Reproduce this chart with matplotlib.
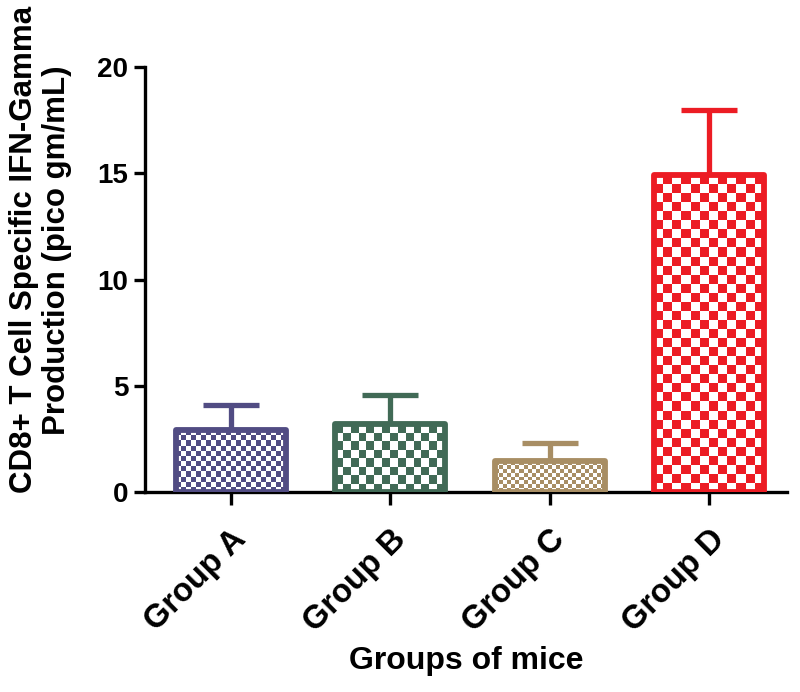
import numpy as np
import matplotlib
matplotlib.use('Agg')
import matplotlib.pyplot as plt
from matplotlib.colors import ListedColormap

plt.rcParams['font.family'] = 'Liberation Sans'
plt.rcParams['font.weight'] = 'bold'

groups = ['Group A', 'Group B', 'Group C', 'Group D']
means = [2.9, 3.2, 1.45, 14.9]
sem = [1.2, 1.35, 0.85, 3.1]
colors = ['#514C83', '#416A56', '#A88E64', '#EC1C24']
cell_px = [5, 8, 4, 9]   # checker square size in pixels

fig = plt.figure(figsize=(8, 6.92), dpi=100)
ax = fig.add_axes([0.181, 0.289, 0.803, 0.614])

x = np.arange(len(groups))
ax.set_xlim(-0.54, 3.49)
ax.set_ylim(0, 20)

bars = ax.bar(x, means, width=0.69, facecolor='none', edgecolor=colors,
              linewidth=4.2, joinstyle='round', zorder=3)
for i in range(len(groups)):
    ax.errorbar(x[i], means[i], yerr=[[0], [sem[i]]], fmt='none', ecolor=colors[i],
                elinewidth=3.8, capsize=20, capthick=3.8, zorder=2)

# checkerboard fill, clipped to each bar
for bar, c, cp in zip(bars, colors, cell_px):
    bx, by = bar.get_x(), bar.get_y()
    bw, bh = bar.get_width(), bar.get_height()
    p0 = ax.transData.transform((bx, by))
    p1 = ax.transData.transform((bx + bw, by + bh))
    nx = max(2, int(round((p1[0] - p0[0]) / cp)))
    ny = max(2, int(round((p1[1] - p0[1]) / cp)))
    board = (np.add.outer(np.arange(ny), np.arange(nx)) % 2).astype(float)
    im = ax.imshow(board, extent=(bx, bx + bw, by, by + bh), origin='lower',
                   cmap=ListedColormap(['white', c]), interpolation='nearest',
                   aspect='auto', zorder=2.5)
    im.set_clip_path(bar)

ax.set_xlim(-0.54, 3.49)
ax.set_ylim(0, 20)

ax.spines['top'].set_visible(False)
ax.spines['right'].set_visible(False)
for s in ['left', 'bottom']:
    ax.spines[s].set_linewidth(2.4)
ax.tick_params(axis='y', width=2.4, length=8, labelsize=20, pad=4)
ax.tick_params(axis='x', width=2.4, length=9, labelsize=23.5, pad=14)
ax.set_yticks([0, 5, 10, 15, 20])
ax.set_xticks(x)
ax.set_xticklabels(groups, rotation=45, ha='right', rotation_mode='anchor')

ax.set_xlabel('Groups of mice', fontsize=23, fontweight='bold', labelpad=6)
ax.set_ylabel('CD8+ T Cell Specific IFN-Gamma\nProduction (pico gm/mL)',
              fontsize=22.5, fontweight='bold', linespacing=1.1)
ax.yaxis.set_label_coords(-0.114, 0.57)

fig.savefig('out.png', dpi=100)
